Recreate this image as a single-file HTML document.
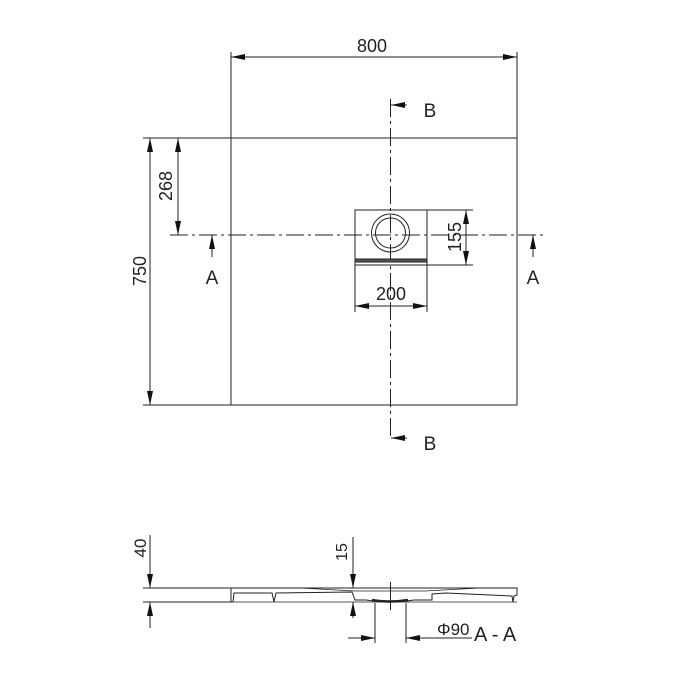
<!DOCTYPE html>
<html><head><style>body{margin:0;background:#fff}svg{display:block}</style></head><body>
<svg width="700" height="700" viewBox="0 0 700 700" xmlns="http://www.w3.org/2000/svg" font-family="Liberation Sans, sans-serif" fill="none" stroke="#222" stroke-width="1">
<defs>
<marker id="ar" viewBox="0 0 14 6" refX="14" refY="3" markerWidth="14" markerHeight="6" orient="auto-start-reverse" markerUnits="userSpaceOnUse"><path d="M0,0 L14,3 L0,6 z" fill="#111" stroke="none"/></marker>
</defs>
<rect x="231" y="138" width="286" height="267"/>
<line x1="231" y1="52" x2="231" y2="138"/>
<line x1="517" y1="52" x2="517" y2="138"/>
<line x1="231" y1="57" x2="517" y2="57" marker-start="url(#ar)" marker-end="url(#ar)"/>
<text x="372" y="52" font-size="18" fill="#222" stroke="none" text-anchor="middle">800</text>
<line x1="143" y1="138" x2="231" y2="138"/>
<line x1="143" y1="405" x2="231" y2="405"/>
<line x1="150" y1="138" x2="150" y2="405" marker-start="url(#ar)" marker-end="url(#ar)"/>
<text transform="translate(146,271) rotate(-90)" font-size="18" fill="#222" stroke="none" text-anchor="middle">750</text>
<line x1="178" y1="138" x2="178" y2="235" marker-start="url(#ar)" marker-end="url(#ar)"/>
<text transform="translate(172,186) rotate(-90)" font-size="18" fill="#222" stroke="none" text-anchor="middle">268</text>
<line x1="170" y1="235" x2="545" y2="235" stroke-dasharray="18,4,3,4"/>
<line x1="390.5" y1="99" x2="390.5" y2="440" stroke-dasharray="18,4,3,4"/>
<rect x="355" y="210" width="72" height="55"/>
<rect x="355" y="259" width="72" height="3" fill="#555"/>
<circle cx="390.5" cy="233" r="19"/>
<circle cx="390.5" cy="233" r="15"/>
<line x1="427" y1="210" x2="473" y2="210"/>
<line x1="427" y1="265" x2="473" y2="265"/>
<line x1="466" y1="210" x2="466" y2="265" marker-start="url(#ar)" marker-end="url(#ar)"/>
<text transform="translate(461,237) rotate(-90)" font-size="18" fill="#222" stroke="none" text-anchor="middle">155</text>
<line x1="355" y1="265" x2="355" y2="312"/>
<line x1="427" y1="265" x2="427" y2="312"/>
<line x1="355" y1="306" x2="427" y2="306" marker-start="url(#ar)" marker-end="url(#ar)"/>
<text x="391" y="300" font-size="18" fill="#222" stroke="none" text-anchor="middle">200</text>
<line x1="212" y1="257" x2="212" y2="235" marker-end="url(#ar)"/>
<text x="212" y="284" font-size="19" fill="#222" stroke="none" text-anchor="middle">A</text>
<line x1="533" y1="257" x2="533" y2="235" marker-end="url(#ar)"/>
<text x="533" y="284" font-size="19" fill="#222" stroke="none" text-anchor="middle">A</text>
<line x1="407" y1="105" x2="391" y2="105" marker-end="url(#ar)"/>
<text x="430" y="117" font-size="19" fill="#222" stroke="none" text-anchor="middle">B</text>
<line x1="407" y1="438" x2="391" y2="438" marker-end="url(#ar)"/>
<text x="430" y="450" font-size="19" fill="#222" stroke="none" text-anchor="middle">B</text>
<line x1="143" y1="588" x2="231" y2="588"/>
<line x1="143" y1="602" x2="231" y2="602"/>
<line x1="150" y1="535" x2="150" y2="588" marker-end="url(#ar)"/>
<line x1="150" y1="628" x2="150" y2="602" marker-end="url(#ar)"/>
<text transform="translate(146,548) rotate(-90)" font-size="17" fill="#222" stroke="none" text-anchor="middle">40</text>
<path d="M231,588 L517,588 L517,595 L514,596 L513,602 L512,596 L446,593 L432,594 L432,600 L414,600 Q390,604 366,600 L355,600 L352,592 L276,593 L274,602 L272,593 L234,593 L233,602 L231,602 Z"/>
<path d="M300,588 L355,591 L425,591 L480,588" stroke-width="0.8"/>
<line x1="231" y1="602" x2="517" y2="602" stroke-width="0.8"/>
<path d="M372,600 Q390,603 408,600" stroke-width="2.5"/>
<line x1="390.5" y1="582" x2="390.5" y2="610"/>
<line x1="353" y1="537" x2="353" y2="588" marker-end="url(#ar)"/>
<line x1="353" y1="618" x2="353" y2="602" marker-end="url(#ar)"/>
<text transform="translate(347,552) rotate(-90)" font-size="16" fill="#222" stroke="none" text-anchor="middle">15</text>
<line x1="375" y1="603" x2="375" y2="643"/>
<line x1="406" y1="603" x2="406" y2="643"/>
<line x1="348" y1="638" x2="375" y2="638" marker-end="url(#ar)"/>
<line x1="430" y1="638" x2="406" y2="638" marker-end="url(#ar)"/>
<line x1="430" y1="638" x2="472" y2="638"/>
<text x="437" y="635" font-size="17" fill="#222" stroke="none">Φ90</text>
<text x="474" y="641" font-size="20" fill="#222" stroke="none">A - A</text>
</svg>
</body></html>
